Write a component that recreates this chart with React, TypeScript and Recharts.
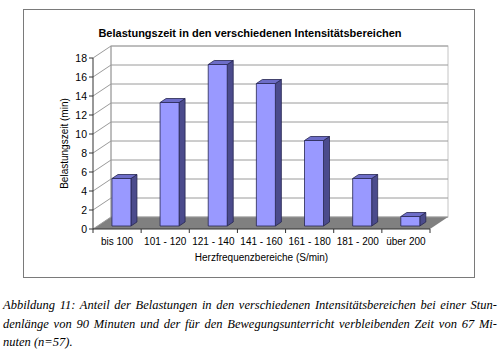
import { BarChart, Bar, XAxis, YAxis, CartesianGrid } from 'recharts';

const categories = ['bis 100', '101 - 120', '121 - 140', '141 - 160', '161 - 180', '181 - 200', 'über 200'];
const minutes = [5, 13, 17, 15, 9, 5, 1];
const yTicks = [0, 2, 4, 6, 8, 10, 12, 14, 16, 18];

const captionLines = [
  'Abbildung 11: Anteil der Belastungen in den verschiedenen Intensitätsbereichen bei einer Stun-',
  'denlänge von 90 Minuten und der für den Bewegungsunterricht verbleibenden Zeit von 67 Mi-',
  'nuten (n=57).',
];

const data = categories.map((name, i) => ({ name, value: minutes[i] }));

// depth of the 3d box (back wall offset) and of a single bar
const DX = 18;
const DY = 12;
const BDX = 6;
const BDY = 4;

function WallLine(props: any) {
  const { x1, y1, x2, index, x, y, width, height } = props;
  const bottom = y + height;
  return (
    <g key={`wall-${index}`}>
      {index === 0 && (
        <g>
          <rect x={x + DX} y={y - DY} width={width} height={height} fill="#fff" stroke="#c4c4c4" />
          <line x1={x + DX} y1={y - DY} x2={x + DX} y2={bottom - DY} stroke="#9a9a9a" />
          <polygon
            points={`${x},${bottom} ${x + width},${bottom} ${x + width + DX},${bottom - DY} ${x + DX},${bottom - DY}`}
            fill="#808080"
          />
        </g>
      )}
      <polyline
        points={`${x1},${y1} ${x1 + DX},${y1 - DY} ${x2 + DX},${y1 - DY}`}
        fill="none"
        stroke="#9a9a9a"
        strokeWidth={1}
      />
    </g>
  );
}

function Bar3D(props: any) {
  const { x, y, width, height } = props;
  if (height == null || width == null) return null;
  const fx = x + 4.5;
  const fy = y - 3;
  const w = width;
  const h = height;
  return (
    <g stroke="#262650" strokeWidth={0.8} strokeLinejoin="round">
      <polygon
        points={`${fx + w},${fy} ${fx + w + BDX},${fy - BDY} ${fx + w + BDX},${fy + h - BDY} ${fx + w},${fy + h}`}
        fill="#4b4b8c"
      />
      <polygon
        points={`${fx},${fy} ${fx + BDX},${fy - BDY} ${fx + w + BDX},${fy - BDY} ${fx + w},${fy}`}
        fill="#6d6dc8"
      />
      <rect x={fx} y={fy} width={w} height={h} fill="#9999ff" />
    </g>
  );
}

function CategoryTick(props: any) {
  const { x, y, payload, index } = props;
  const half = payload?.offset || 24;
  const last = index === categories.length - 1;
  return (
    <g>
      <line x1={x - half} y1={y - 6} x2={x - half} y2={y - 2} stroke="#333" />
      {last && <line x1={x + half} y1={y - 6} x2={x + half} y2={y - 2} stroke="#333" />}
      <text x={x} y={y + 10} textAnchor="middle" fontSize={10} fill="#000" fontFamily="'Liberation Sans', Arial, sans-serif">
        {payload.value}
      </text>
    </g>
  );
}

export default function App() {
  return (
    <div style={{ position: 'absolute', left: 0, top: 0, width: 500, height: 353, background: '#fff' }}>
      <div
        style={{
          position: 'absolute',
          left: 23,
          top: 9,
          width: 450,
          height: 267,
          border: '1px solid #7a7a7a',
        }}
      />
      <div
        style={{
          position: 'absolute',
          left: 0,
          top: 27,
          width: 500,
          textAlign: 'center',
          fontFamily: "'Liberation Sans', Arial, sans-serif",
          fontWeight: 'bold',
          fontSize: 11,
          color: '#000',
        }}
      >
        Belastungszeit in den verschiedenen Intensitätsbereichen
      </div>
      <div style={{ position: 'absolute', left: 0, top: 0 }}>
        <BarChart
          width={500}
          height={280}
          data={data}
          margin={{ top: 58, right: 70, bottom: 11, left: 35 }}
          barCategoryGap="30%"
        >
          <CartesianGrid vertical={false} horizontal={(p: any) => <WallLine {...p} key={`wl-${p.index}`} />} />
          <XAxis
            dataKey="name"
            height={40}
            tickLine={false}
            tickSize={4}
            tickMargin={2}
            axisLine={{ stroke: '#333' }}
            tick={<CategoryTick />}
            interval={0}
            label={{
              value: 'Herzfrequenzbereiche (S/min)',
              position: 'insideBottom',
              offset: 8,
              fontSize: 10,
              fill: '#000',
              fontFamily: "'Liberation Sans', Arial, sans-serif",
            }}
          />
          <YAxis
            width={58}
            domain={[0, 18]}
            ticks={yTicks}
            interval={0}
            tickSize={4}
            tickMargin={2}
            axisLine={{ stroke: '#333' }}
            tickLine={{ stroke: '#333' }}
            tick={{ fontSize: 10.5, fill: '#000', fontFamily: "'Liberation Sans', Arial, sans-serif" }}
            label={{
              value: 'Belastungszeit (min)',
              angle: -90,
              position: 'center',
              fontSize: 10,
              fill: '#000',
              fontFamily: "'Liberation Sans', Arial, sans-serif",
            }}
          />
          <Bar dataKey="value" shape={<Bar3D />} isAnimationActive={false} />
        </BarChart>
      </div>
      <div
        style={{
          position: 'absolute',
          left: 3,
          top: 296,
          width: 494,
          fontFamily: "'Liberation Serif', 'Times New Roman', serif",
          fontStyle: 'italic',
          fontSize: 12.5,
          lineHeight: '18.5px',
          color: '#000',
        }}
      >
        {captionLines.map((line, i) => (
          <div
            key={i}
            style={{
              whiteSpace: 'nowrap',
              textAlign: i < captionLines.length - 1 ? 'justify' : 'left',
              textAlignLast: i < captionLines.length - 1 ? 'justify' : 'left',
            }}
          >
            {line}
          </div>
        ))}
      </div>
    </div>
  );
}
